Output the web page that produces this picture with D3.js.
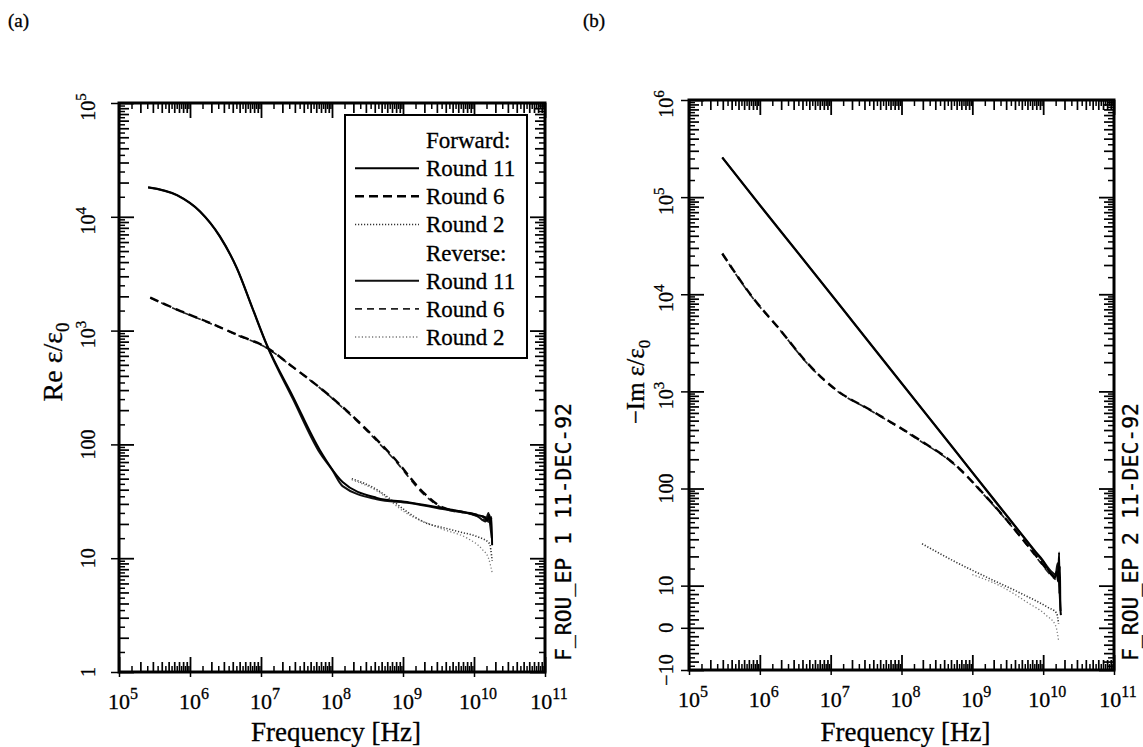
<!DOCTYPE html>
<html><head><meta charset="utf-8">
<script src="https://cdn.jsdelivr.net/npm/d3@7"></script>
<style>body{margin:0;background:#fff} svg{display:block}</style>
</head><body><svg id="c" width="1143" height="747"></svg>
<script>
// ---------------- DATA ----------------
// Panel (a): Re eps/eps0
const reFwd11Freq = [2.57e5, 6.6e5, 1.38e6, 2.63e6, 4.57e6, 7.59e6, 1.2e7, 2.82e7, 6.76e7, 1.41e8, 4.27e8, 1.23e9, 3.63e9, 1.1e10, 1.4e10, 1.55e10, 1.65e10, 1.72e10, 1.76e10, 1.8e10];
const reFwd11Val  = [18200, 15500, 11200, 6760, 3550, 1580, 760, 263, 89, 46.8, 33.9, 30.9, 27.5, 24, 23, 21.5, 24, 20, 23, 13];
const reRev11Freq = [2.57e5, 6.6e5, 1.38e6, 2.63e6, 4.57e6, 7.59e6, 1.2e7, 2.82e7, 6.76e7, 1.0e8, 1.41e8, 4.27e8, 1.23e9, 3.63e9, 1.1e10, 1.45e10, 1.6e10, 1.7e10, 1.78e10];
const reRev11Val  = [18100, 15400, 11100, 6700, 3520, 1560, 750, 250, 84, 60, 43, 33, 30.5, 27, 23.5, 21, 25, 19, 15];
const reFwd6Freq  = [2.75e5, 6.6e5, 1.9e6, 4.6e6, 1.2e7, 2.8e7, 8.5e7, 2.45e8, 7.2e8, 2.1e9, 3.6e9, 1.1e10, 1.5e10, 1.8e10];
const reFwd6Val   = [1950, 1530, 1170, 920, 710, 480, 280, 155, 78, 36, 28, 24, 22.5, 21];
const reRev6Freq  = [2.75e5, 6.6e5, 1.9e6, 4.6e6, 1.2e7, 2.8e7, 8.5e7, 2.45e8, 7.2e8, 2.1e9, 3.6e9, 1.1e10, 1.8e10];
const reRev6Val   = [1940, 1520, 1160, 915, 705, 478, 278, 152, 76, 35, 27.5, 23.5, 20];
const reFwd2Freq  = [1.9e8, 4.3e8, 7.1e8, 1.1e9, 2.1e9, 3.6e9, 6.3e9, 1.1e10, 1.65e10, 1.8e10];
const reFwd2Val   = [50, 40, 32, 26, 20.4, 18.6, 17, 15.5, 13.5, 9.5];
const reRev2Freq  = [1.9e8, 4.3e8, 1.1e9, 3.6e9, 8e9, 1.3e10, 1.6e10, 1.8e10];
const reRev2Val   = [49, 39, 25, 18, 15, 12, 10, 7.5];

// Panel (b): -Im eps/eps0
const imFwd11Freq = [2.95e5, 1e6, 3.2e6, 2.1e7, 1e8, 5.4e8, 2e9, 4.8e9, 7.8e9, 1.0e10, 1.15e10, 1.3e10, 1.45e10, 1.55e10, 1.62e10, 1.68e10, 1.7e10, 1.72e10, 1.75e10, 1.78e10];
const imFwd11Val  = [257000, 83000, 28800, 5130, 1220, 260, 78, 35, 22.4, 18, 15, 13, 12, 14, 11, 22, 8, 16, 5, 3];
const imRev11Freq = [2.95e5, 1e6, 3.2e6, 2.1e7, 1e8, 5.4e8, 2e9, 4.8e9, 7.8e9, 1.05e10, 1.3e10, 1.5e10, 1.6e10, 1.7e10, 1.76e10];
const imRev11Val  = [255000, 82000, 28500, 5080, 1210, 257, 77, 34.5, 22, 17, 14, 13, 17, 9, 4];
const imFwd6Freq  = [2.95e5, 7.9e5, 1.95e6, 4.7e6, 1.23e7, 3.6e7, 1.8e8, 5.4e8, 1.6e9, 4.8e9, 8.3e9, 1.2e10, 1.5e10];
const imFwd6Val   = [26300, 9300, 4270, 1950, 1020, 646, 316, 182, 81, 32, 19.5, 14, 12];
const imRev6Freq  = [2.95e5, 7.9e5, 1.95e6, 4.7e6, 1.23e7, 3.6e7, 1.8e8, 5.4e8, 1.6e9, 4.8e9, 8.3e9, 1.2e10, 1.5e10];
const imRev6Val   = [26000, 9200, 4230, 1930, 1010, 640, 312, 180, 80, 31.5, 19, 13.5, 11.5];
const imFwd2Freq  = [1.95e8, 5.4e8, 1.6e9, 4.8e9, 1.15e10, 1.55e10, 1.6e10, 1.65e10];
const imFwd2Val   = [27, 18, 12.2, 8.2, 4.9, 3.5, 2.5, 1];
const imRev2Freq  = [1.0e9, 2.7e9, 6e9, 1.1e10, 1.5e10, 1.65e10];
const imRev2Val   = [13, 9.6, 6, 3, 0.5, -3];

// Tick labels
const xTickVals   = [1e5, 1e6, 1e7, 1e8, 1e9, 1e10, 1e11];
const xTickExp    = ["5", "6", "7", "8", "9", "10", "11"];
const yTickValsA  = [1, 10, 100, 1e3, 1e4, 1e5];
const yTickLabA   = [["1",""], ["10",""], ["100",""], ["10","3"], ["10","4"], ["10","5"]];
const yTickValsB  = [-10, 0, 10, 100, 1e3, 1e4, 1e5, 1e6];
const yTickLabB   = [["\u221210",""], ["0",""], ["10",""], ["100",""], ["10","3"], ["10","4"], ["10","5"], ["10","6"]];
const legendLabels = ["Forward:", "Round 11", "Round 6", "Round 2", "Reverse:", "Round 11", "Round 6", "Round 2"];

// ---------------- DRAWING ----------------
const svg = d3.select("#c");
const serif = "'Liberation Serif','Times New Roman',serif";
const mono = "'DejaVu Sans Mono','Liberation Mono',monospace";

const xA = d3.scaleLog().domain([1e5, 1e11]).range([119, 545]);
const yA = d3.scaleLog().domain([1, 1e5]).range([672, 103]);
const xB = d3.scaleLog().domain([1e5, 1e11]).range([689, 1114]);
// log for |v|>=10, linear within |v|<10 (matched slope)
function gT(v){ const t = Math.abs(v); const h = t < 10 ? t/10*Math.LOG10E : Math.LOG10E + Math.log10(t/10); return Math.sign(v)*h; }
const yBg = d3.scaleLinear().domain([gT(-10), gT(1e6)]).range([670, 100]);
const yB = v => yBg(gT(v));

const styles = {
  fwd11: {w: 2.0, dash: null, c: "#000"},
  rev11: {w: 2.0, dash: null, c: "#111"},
  fwd6:  {w: 2.4, dash: "9,5", c: "#000"},
  rev6:  {w: 1.7, dash: "7,5", c: "#222"},
  fwd2:  {w: 1.6, dash: "1.2,1.8", c: "#333"},
  rev2:  {w: 1.3, dash: "1.2,2.2", c: "#777"}
};

function drawSeries(x, y, freq, val, st, clipId){
  const pts = freq.map((f,i)=>[x(f), y(val[i])]);
  svg.append("path").attr("clip-path", `url(#${clipId})`)
    .attr("d", d3.line().curve(d3.curveMonotoneX)(pts))
    .attr("fill","none").attr("stroke", st.c).attr("stroke-width", st.w)
    .attr("stroke-dasharray", st.dash).attr("stroke-linejoin","round");
}

function logMinor(lo, hi, mults){
  const out=[]; for(let k=lo;k<hi;k++) for(const m of mults) out.push(m*Math.pow(10,k)); return out;
}
const mids = [2,3,4,5,6,7,8,9];
const halves = [1.5,2.5,3.5,4.5,5.5,6.5,7.5,8.5,9.5];

function tickGroup(axisFn, scale, vals, size, tr, sw){
  svg.append("g").attr("transform", tr)
    .call(axisFn(scale).tickValues(vals).tickSize(size).tickSizeOuter(0).tickFormat(""))
    .call(s=>{ s.select(".domain").remove(); s.selectAll("line").attr("stroke","#000").attr("stroke-width", sw); });
}

function panel(P){
  const {x, ysc, yvals, x0, x1, yTop, yBot, clipId} = P;
  svg.append("clipPath").attr("id", clipId).append("rect")
    .attr("x", x0).attr("y", yTop).attr("width", x1-x0).attr("height", yBot-yTop);
  const xMaj = d3.range(5,12).map(k=>Math.pow(10,k));
  const xMid = logMinor(5,11,mids), xHalf = logMinor(5,11,halves);
  for (const [fn, tr] of [[d3.axisBottom, `translate(0,${yBot})`], [d3.axisTop, `translate(0,${yTop})`]]) {
    tickGroup(fn, x, xMaj, -15, tr, 1.8);
    tickGroup(fn, x, xMid, -10, tr, 1.7);
    tickGroup(fn, x, xHalf, -6, tr, 1.5);
  }
  tickGroup(d3.axisBottom, x, xMaj, 5, `translate(0,${yBot})`, 1.5);
  for (const [fn, tr] of [[d3.axisLeft, `translate(${x0},0)`], [d3.axisRight, `translate(${x1},0)`]]) {
    tickGroup(fn, ysc, yvals.maj, -15, tr, 1.8);
    tickGroup(fn, ysc, yvals.mid, -10, tr, 1.7);
    tickGroup(fn, ysc, yvals.half, -6, tr, 1.5);
  }
  tickGroup(d3.axisLeft, ysc, yvals.maj, 8, `translate(${x0},0)`, 1.5);
  svg.append("rect").attr("x", x0).attr("y", yTop).attr("width", x1-x0).attr("height", yBot-yTop)
    .attr("fill","none").attr("stroke","#000").attr("stroke-width",3);
  xTickVals.forEach((v,i)=>{
    const t = svg.append("text").attr("x", x(v)+4).attr("y", yBot+37)
      .attr("text-anchor","middle").attr("font-family", serif).attr("font-size", 22)
      .attr("stroke","#000").attr("stroke-width",0.3);
    t.append("tspan").text("10");
    t.append("tspan").attr("dy", -10).attr("font-size", 16).text(xTickExp[i]);
  });
  svg.append("text").attr("x", (x0+x1)/2+4).attr("y", 741).attr("text-anchor","middle")
    .attr("font-family", serif).attr("font-size", 27).attr("stroke","#000").attr("stroke-width",0.3)
    .text("Frequency [Hz]");
}

panel({x: xA, ysc: yA, x0: 119, x1: 545, yTop: 103, yBot: 672, clipId: "clipA",
  yvals: {maj: yTickValsA, mid: logMinor(0,5,mids), half: logMinor(0,5,halves)}});
const bMaj = yTickValsB.map(gT);
const bMid = [-8,-6,-4,-2,2,4,6,8].map(gT).concat(logMinor(1,6,mids).map(gT));
const bHalf = [-9,-7,-5,-3,-1,1,3,5,7,9].map(gT).concat(logMinor(1,6,halves).map(gT));
panel({x: xB, ysc: yBg, x0: 689, x1: 1114, yTop: 100, yBot: 670, clipId: "clipB",
  yvals: {maj: bMaj, mid: bMid, half: bHalf}});

function yLabel(xPos, yPos, lab){
  const t = svg.append("text").attr("transform", `translate(${xPos},${yPos}) rotate(-90)`)
    .attr("text-anchor","middle").attr("font-family", serif).attr("font-size", 20)
    .attr("stroke","#000").attr("stroke-width",0.3);
  t.append("tspan").text(lab[0]);
  if (lab[1]) t.append("tspan").attr("dy", -9).attr("font-size", 15).text(lab[1]);
}
yTickValsA.forEach((v,i)=> yLabel(95, yA(v)+ (yTickLabA[i][1]?4:0), yTickLabA[i]));
yTickValsB.forEach((v,i)=> yLabel(673, yB(v)+ (yTickLabB[i][1]?4:0), yTickLabB[i]));

function yTitle(xPos, yPos, main, fs){
  const t = svg.append("text").attr("transform", `translate(${xPos},${yPos}) rotate(-90)`)
    .attr("text-anchor","middle").attr("font-family", serif).attr("font-size", fs)
    .attr("stroke","#000").attr("stroke-width",0.3);
  t.append("tspan").text(main);
  t.append("tspan").attr("dy", fs*0.25).attr("font-size", fs*0.68).text("0");
}
yTitle(62, 362, "Re \u03b5/\u03b5", 28);
yTitle(644, 382, "\u2212Im \u03b5/\u03b5", 25);

function sideText(xPos, txt){
  svg.append("text").attr("transform", `translate(${xPos},${532}) rotate(-90)`)
    .attr("text-anchor","middle").attr("font-family", mono).attr("font-size", 21)
    .attr("stroke","#000").attr("stroke-width",0.3)
    .attr("textLength", 258).attr("lengthAdjust","spacingAndGlyphs").text(txt);
}
sideText(571, "F_ROU_EP 1 11-DEC-92");
sideText(1138, "F_ROU_EP 2 11-DEC-92");

svg.append("text").attr("x", 8).attr("y", 27).attr("font-family", serif).attr("font-size", 19)
  .attr("stroke","#000").attr("stroke-width",0.3).text("(a)");
svg.append("text").attr("x", 583).attr("y", 27).attr("font-family", serif).attr("font-size", 19)
  .attr("stroke","#000").attr("stroke-width",0.3).text("(b)");

drawSeries(xA, yA, reFwd2Freq, reFwd2Val, styles.fwd2, "clipA");
drawSeries(xA, yA, reRev2Freq, reRev2Val, styles.rev2, "clipA");
drawSeries(xA, yA, reRev6Freq, reRev6Val, styles.rev6, "clipA");
drawSeries(xA, yA, reFwd6Freq, reFwd6Val, styles.fwd6, "clipA");
drawSeries(xA, yA, reRev11Freq, reRev11Val, styles.rev11, "clipA");
drawSeries(xA, yA, reFwd11Freq, reFwd11Val, styles.fwd11, "clipA");
drawSeries(xB, yB, imFwd2Freq, imFwd2Val, styles.fwd2, "clipB");
drawSeries(xB, yB, imRev2Freq, imRev2Val, styles.rev2, "clipB");
drawSeries(xB, yB, imRev6Freq, imRev6Val, styles.rev6, "clipB");
drawSeries(xB, yB, imFwd6Freq, imFwd6Val, styles.fwd6, "clipB");
drawSeries(xB, yB, imRev11Freq, imRev11Val, styles.rev11, "clipB");
drawSeries(xB, yB, imFwd11Freq, imFwd11Val, styles.fwd11, "clipB");

const lg = svg.append("g");
lg.append("rect").attr("x", 345).attr("y", 115).attr("width", 182).attr("height", 243)
  .attr("fill","#fff").attr("stroke","#000").attr("stroke-width",2);
const legStyles = [null, styles.fwd11, styles.fwd6, styles.fwd2, null, styles.rev11, styles.rev6, styles.rev2];
const legY = d3.scaleLinear().domain([0, 7]).range([140, 337]);
legendLabels.forEach((lab,i)=>{
  const yy = legY(i);
  lg.append("text").attr("x", 426).attr("y", yy+8).attr("font-family", serif).attr("font-size", 23)
    .attr("stroke","#000").attr("stroke-width",0.3).text(lab);
  const st = legStyles[i];
  if (st) lg.append("line").attr("x1", 355).attr("x2", 419).attr("y1", yy).attr("y2", yy)
    .attr("stroke", st.c).attr("stroke-width", st.w).attr("stroke-dasharray", st.dash);
});
</script></body></html>
